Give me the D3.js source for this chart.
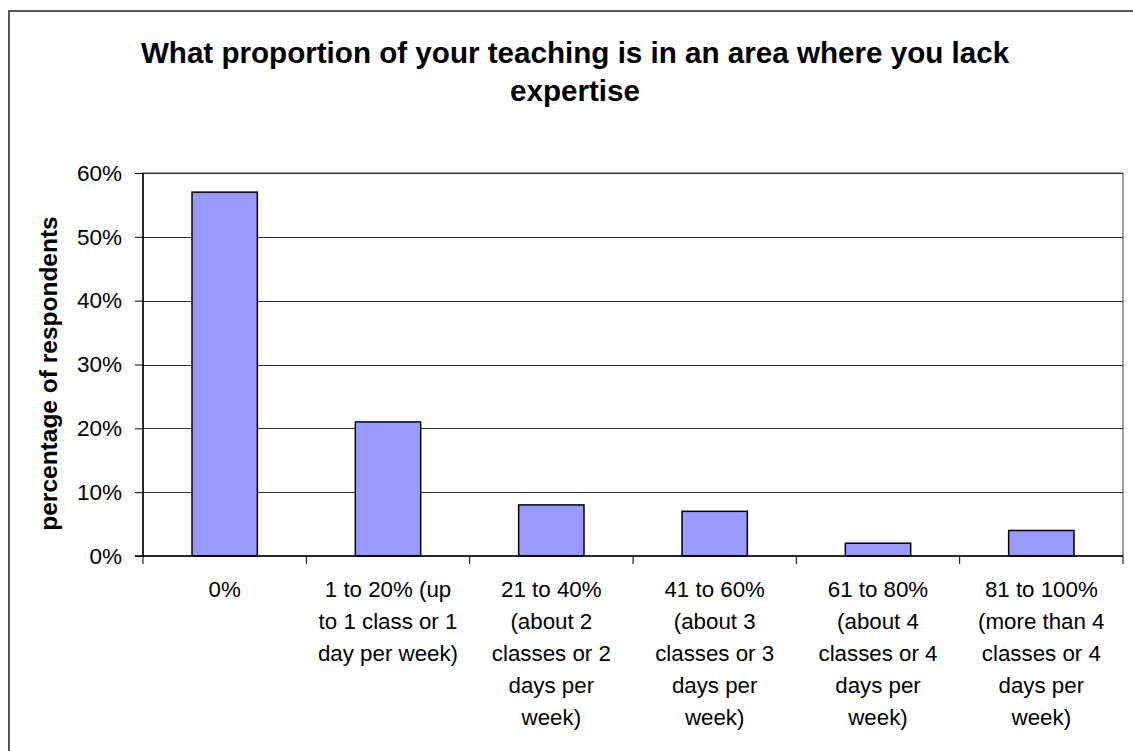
<!DOCTYPE html>
<html>
<head>
<meta charset="utf-8">
<script src="https://cdn.jsdelivr.net/npm/d3@7"></script>
<style>
  html, body { margin: 0; padding: 0; background: #fff; }
  svg { display: block; }
  text { font-family: "Liberation Sans", Arial, sans-serif; fill: #000; }
</style>
</head>
<body>
<svg id="chart" width="1133" height="751"></svg>
<script>
// ---- data ----
const titleLines = ["What proportion of your teaching is in an area where you lack", "expertise"];
const yAxisTitle = "percentage of respondents";
const categories = ["0%", "1-20%", "21-40%", "41-60%", "61-80%", "81-100%"];
const categoryLabels = [
  ["0%"],
  ["1 to 20% (up", "to 1 class or 1", "day per week)"],
  ["21 to 40%", "(about 2", "classes or 2", "days per", "week)"],
  ["41 to 60%", "(about 3", "classes or 3", "days per", "week)"],
  ["61 to 80%", "(about 4", "classes or 4", "days per", "week)"],
  ["81 to 100%", "(more than 4", "classes or 4", "days per", "week)"]
];
const values = [0.57, 0.21, 0.08, 0.07, 0.02, 0.04];
const yTicks = [0, 0.1, 0.2, 0.3, 0.4, 0.5, 0.6];

// ---- layout ----
const svg = d3.select("#chart");
const plot = { left: 143, right: 1123, top: 173, bottom: 556 };

// outer chart border (extends beyond the viewport on right/bottom)
svg.append("rect")
  .attr("x", 9).attr("y", 11).attr("width", 1200).attr("height", 800)
  .attr("fill", "#fff").attr("stroke", "#222").attr("stroke-width", 1.5);

const x = d3.scaleBand().domain(categories).range([plot.left, plot.right]);
const xBar = d3.scaleBand().domain(categories).range([plot.left, plot.right])
  .paddingInner(0.6).paddingOuter(0.3);
const y = d3.scaleLinear().domain([0, 0.6]).range([plot.bottom, plot.top]);

// plot area border (gray)
svg.append("rect")
  .attr("x", plot.left).attr("y", plot.top)
  .attr("width", plot.right - plot.left).attr("height", plot.bottom - plot.top)
  .attr("fill", "none").attr("stroke", "#808080").attr("stroke-width", 1.5);

// gridlines
svg.append("g").selectAll("line").data(yTicks.filter(d => d > 0)).join("line")
  .attr("x1", plot.left).attr("x2", plot.right)
  .attr("y1", d => Math.round(y(d)) + 0.5).attr("y2", d => Math.round(y(d)) + 0.5)
  .attr("stroke", "#333").attr("stroke-width", 1);

// bars
svg.append("g").selectAll("rect").data(values).join("rect")
  .attr("x", (d, i) => xBar(categories[i]))
  .attr("y", d => y(d))
  .attr("width", xBar.bandwidth())
  .attr("height", d => y(0) - y(d))
  .attr("fill", "#9999FF").attr("stroke", "#000").attr("stroke-width", 1.5);

// y axis
const yAxis = d3.axisLeft(y).tickValues(yTicks).tickFormat(d3.format(".0%"))
  .tickSize(8).tickPadding(13);
const yg = svg.append("g").attr("transform", `translate(${plot.left},0)`).call(yAxis);
yg.select(".domain").attr("stroke", "#000").attr("stroke-width", 1.5).attr("d", `M0,${plot.top}V${plot.bottom}`);
yg.selectAll(".tick line").attr("stroke", "#000").attr("stroke-width", 1);
yg.selectAll(".tick text").attr("font-size", 22.5).attr("font-family", "Liberation Sans, Arial, sans-serif").attr("fill", "#000");

// x axis line and ticks at category boundaries
const xBoundaries = categories.map(c => x(c)).concat([plot.right]);
svg.append("line")
  .attr("x1", plot.left - 8).attr("x2", plot.right)
  .attr("y1", plot.bottom).attr("y2", plot.bottom)
  .attr("stroke", "#000").attr("stroke-width", 1.5);
svg.append("g").selectAll("line").data(xBoundaries).join("line")
  .attr("x1", d => d).attr("x2", d => d)
  .attr("y1", plot.bottom).attr("y2", plot.bottom + 8)
  .attr("stroke", "#000").attr("stroke-width", 1);

// category labels
const catG = svg.append("g");
categories.forEach((c, i) => {
  const t = catG.append("text")
    .attr("x", x(c) + x.bandwidth() / 2)
    .attr("y", 597)
    .attr("text-anchor", "middle")
    .attr("font-size", 22.3);
  categoryLabels[i].forEach((line, j) => {
    t.append("tspan").attr("x", x(c) + x.bandwidth() / 2).attr("dy", j === 0 ? 0 : 32).text(line);
  });
});

// title
const tt = svg.append("text")
  .attr("x", 575).attr("y", 63)
  .attr("text-anchor", "middle")
  .attr("font-size", 29.6).attr("font-weight", "bold");
titleLines.forEach((line, j) => {
  tt.append("tspan").attr("x", 575).attr("dy", j === 0 ? 0 : 38).text(line);
});

// y axis title
svg.append("text")
  .attr("transform", `translate(57,373.5) rotate(-90)`)
  .attr("text-anchor", "middle")
  .attr("font-size", 24.5).attr("font-weight", "bold")
  .text(yAxisTitle);
</script>
</body>
</html>
